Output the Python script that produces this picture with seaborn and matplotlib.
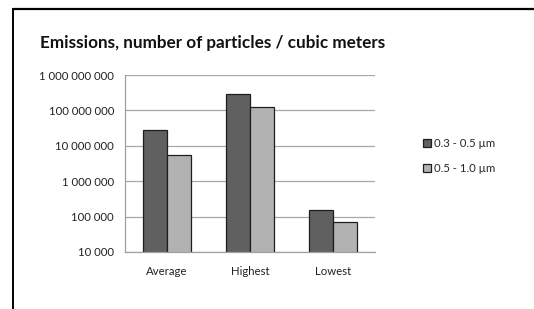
import matplotlib
matplotlib.use("Agg")
import matplotlib.pyplot as plt
from matplotlib.lines import Line2D
from matplotlib.ticker import FixedLocator, FuncFormatter, NullLocator
import seaborn as sns
import pandas as pd

# data (particles / m3)
categories = ["Average", "Highest", "Lowest"]
series = ["0.3 - 0.5 µm", "0.5 - 1.0 µm"]
small_particles = [2.8e7, 2.9e8, 1.5e5]
large_particles = [5.5e6, 1.25e8, 7.0e4]
y_ticks = [1e4, 1e5, 1e6, 1e7, 1e8, 1e9]

df = pd.DataFrame({
    "category": categories * 2,
    "size": [series[0]] * 3 + [series[1]] * 3,
    "count": small_particles + large_particles,
})

sns.set_style("white")
plt.rcParams["font.family"] = ["Lato", "DejaVu Sans"]

fig = plt.figure(figsize=(5.34, 3.09), dpi=100)
ax = fig.add_axes([125 / 534, 1 - 252 / 309, 250 / 534, 177 / 309])
ax.set_yscale("log")

sns.barplot(data=df, x="category", y="count", hue="size", ax=ax,
            palette=["#606060", "#b2b2b2"], width=0.58, gap=0,
            edgecolor="#1e1e1e", linewidth=0.9, legend=True)

ax.set_ylim(1e4, 1e9)
ax.set_xlim(-0.5, 2.5)
ax.yaxis.set_major_locator(FixedLocator(y_ticks))
ax.yaxis.set_minor_locator(NullLocator())
ax.yaxis.set_major_formatter(FuncFormatter(lambda v, _: f"{int(round(v)):,}".replace(",", " ")))
ax.grid(axis="y", color="#a8a8a8", linewidth=0.9)
ax.set_axisbelow(True)
ax.set_xlabel("")
ax.set_ylabel("")

# category labels centred, tick marks on category boundaries
ax.set_xticks([0, 1, 2])
ax.set_xticklabels(categories)
ax.tick_params(axis="x", length=0, pad=10, labelsize=8.2, colors="#222222")
ax.set_xticks([-0.5, 0.5, 1.5, 2.5], minor=True)
ax.tick_params(axis="x", which="minor", length=4, color="#a0a0a0", width=0.9, direction="out")
ax.tick_params(axis="y", length=4, color="#a0a0a0", width=0.9, direction="out",
               labelsize=8.2, labelcolor="#222222", pad=4)

for side in ["top", "right"]:
    ax.spines[side].set_visible(False)
for side in ["left", "bottom"]:
    ax.spines[side].set_color("#a0a0a0")
    ax.spines[side].set_linewidth(0.9)

handles, labels = ax.get_legend_handles_labels()
ax.legend(handles, labels, loc="center left", bbox_to_anchor=(418 / 534, 1 - 156 / 309),
          bbox_transform=fig.transFigure, frameon=False, fontsize=8.2,
          handlelength=0.7, handleheight=0.7, handletextpad=0.3, labelspacing=1.3,
          borderaxespad=0)

fig.text(40 / 534, 1 - 43 / 309, "Emissions, number of particles / cubic meters",
         fontsize=12.3, fontweight="bold", va="center", ha="left", color="#111111")

# chart frame (top and left edges visible in the crop)
fig.add_artist(Line2D([13 / 534, 1], [1 - 9 / 309, 1 - 9 / 309], color="black", linewidth=1.6,
                      transform=fig.transFigure))
fig.add_artist(Line2D([13 / 534, 13 / 534], [1 - 9 / 309, 0], color="black", linewidth=1.4,
                      transform=fig.transFigure))

fig.savefig("out.png", dpi=100, facecolor="white")
